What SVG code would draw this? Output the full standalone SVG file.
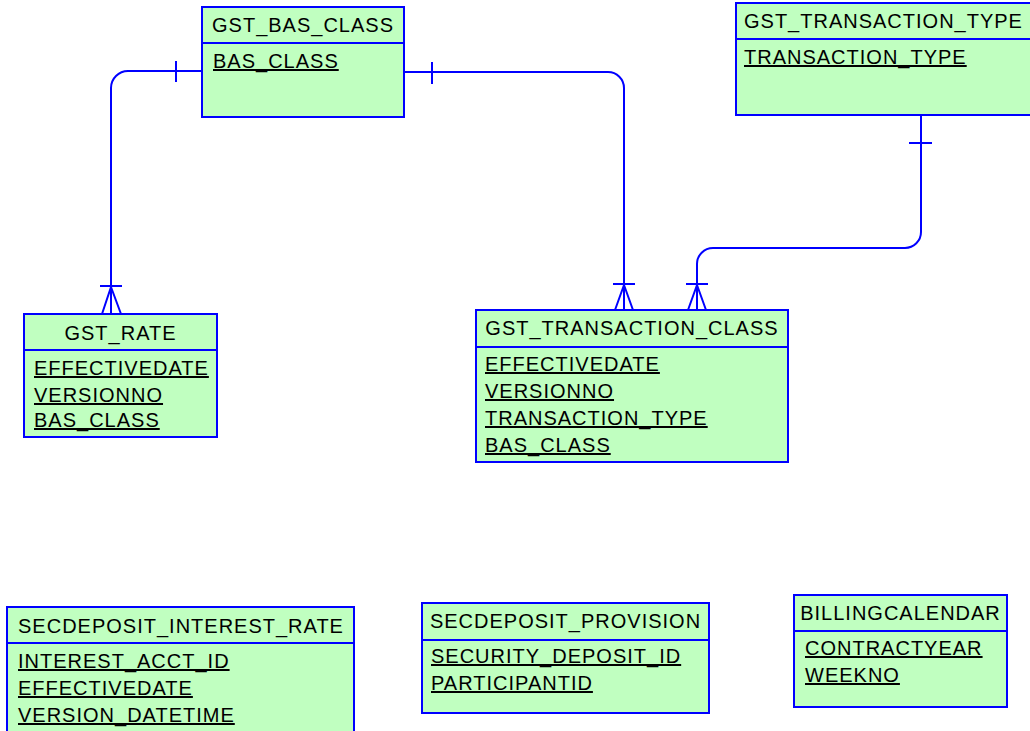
<svg xmlns="http://www.w3.org/2000/svg" width="1030" height="731" viewBox="0 0 1030 731">
<style>
.box{fill:#C0FFC0;stroke:#0000FF;stroke-width:2}
.div{stroke:#0000FF;stroke-width:2}
.t{font-family:"Liberation Sans",Arial,sans-serif;font-size:20px;letter-spacing:1px;fill:#000}
.c{text-anchor:middle}
.a{text-decoration:underline}
.ln{fill:none;stroke:#0000FF;stroke-width:2}
</style>
<rect width="1030" height="731" fill="#fff"/>
<g id="connectors">
<path class="ln" d="M202,71 H128 A17,17 0 0 0 111,88 V314"/>
<path class="ln" d="M176,61 V82"/>
<path class="ln" d="M100,286 H122 M111,287 L102,314 M111,287 L121,314"/>
<path class="ln" d="M404,72 H608 A16,16 0 0 1 624,88 V310"/>
<path class="ln" d="M432,62 V84"/>
<path class="ln" d="M613,284 H635 M624,285 L615,310 M624,285 L633,310"/>
<path class="ln" d="M921,115 V232 A16,16 0 0 1 905,248 H713 A16,16 0 0 0 697,264 V310"/>
<path class="ln" d="M909,143 H932"/>
<path class="ln" d="M686,284 H708 M697,285 L688,310 M697,285 L706,310"/>
</g>
<g id="GST_BAS_CLASS">
<rect class="box" x="202" y="7" width="202" height="110"/>
<line class="div" x1="202" y1="43" x2="404" y2="43"/>
<text class="t c" x="303" y="32">GST_BAS_CLASS</text>
<text class="t a" x="213" y="68">BAS_CLASS</text>
</g>
<g id="GST_TRANSACTION_TYPE">
<rect class="box" x="736" y="3" width="310" height="112"/>
<line class="div" x1="736" y1="39" x2="1046" y2="39"/>
<text class="t" x="744" y="28">GST_TRANSACTION_TYPE</text>
<text class="t a" x="744" y="64">TRANSACTION_TYPE</text>
</g>
<g id="GST_RATE">
<rect class="box" x="24" y="314" width="193" height="123"/>
<line class="div" x1="24" y1="350" x2="217" y2="350"/>
<text class="t c" x="120.5" y="340">GST_RATE</text>
<text class="t a" x="34" y="375">EFFECTIVEDATE</text>
<text class="t a" x="34" y="402">VERSIONNO</text>
<text class="t a" x="34" y="427">BAS_CLASS</text>
</g>
<g id="GST_TRANSACTION_CLASS">
<rect class="box" x="476" y="310" width="312" height="152"/>
<line class="div" x1="476" y1="347" x2="788" y2="347"/>
<text class="t c" x="632" y="335">GST_TRANSACTION_CLASS</text>
<text class="t a" x="485" y="371">EFFECTIVEDATE</text>
<text class="t a" x="485" y="398">VERSIONNO</text>
<text class="t a" x="485" y="425">TRANSACTION_TYPE</text>
<text class="t a" x="485" y="452">BAS_CLASS</text>
</g>
<g id="SECDEPOSIT_INTEREST_RATE">
<rect class="box" x="7" y="607" width="347" height="140"/>
<line class="div" x1="7" y1="643" x2="354" y2="643"/>
<text class="t c" x="181" y="633">SECDEPOSIT_INTEREST_RATE</text>
<text class="t a" x="18" y="668">INTEREST_ACCT_ID</text>
<text class="t a" x="18" y="695">EFFECTIVEDATE</text>
<text class="t a" x="18" y="722">VERSION_DATETIME</text>
</g>
<g id="SECDEPOSIT_PROVISION">
<rect class="box" x="422" y="603" width="287" height="110"/>
<line class="div" x1="422" y1="640" x2="709" y2="640"/>
<text class="t c" x="565.5" y="628">SECDEPOSIT_PROVISION</text>
<text class="t a" x="431" y="663">SECURITY_DEPOSIT_ID</text>
<text class="t a" x="431" y="690">PARTICIPANTID</text>
</g>
<g id="BILLINGCALENDAR">
<rect class="box" x="794" y="595" width="213" height="112"/>
<line class="div" x1="794" y1="631" x2="1007" y2="631"/>
<text class="t c" x="900.5" y="620">BILLINGCALENDAR</text>
<text class="t a" x="805" y="655">CONTRACTYEAR</text>
<text class="t a" x="805" y="682">WEEKNO</text>
</g>
</svg>
